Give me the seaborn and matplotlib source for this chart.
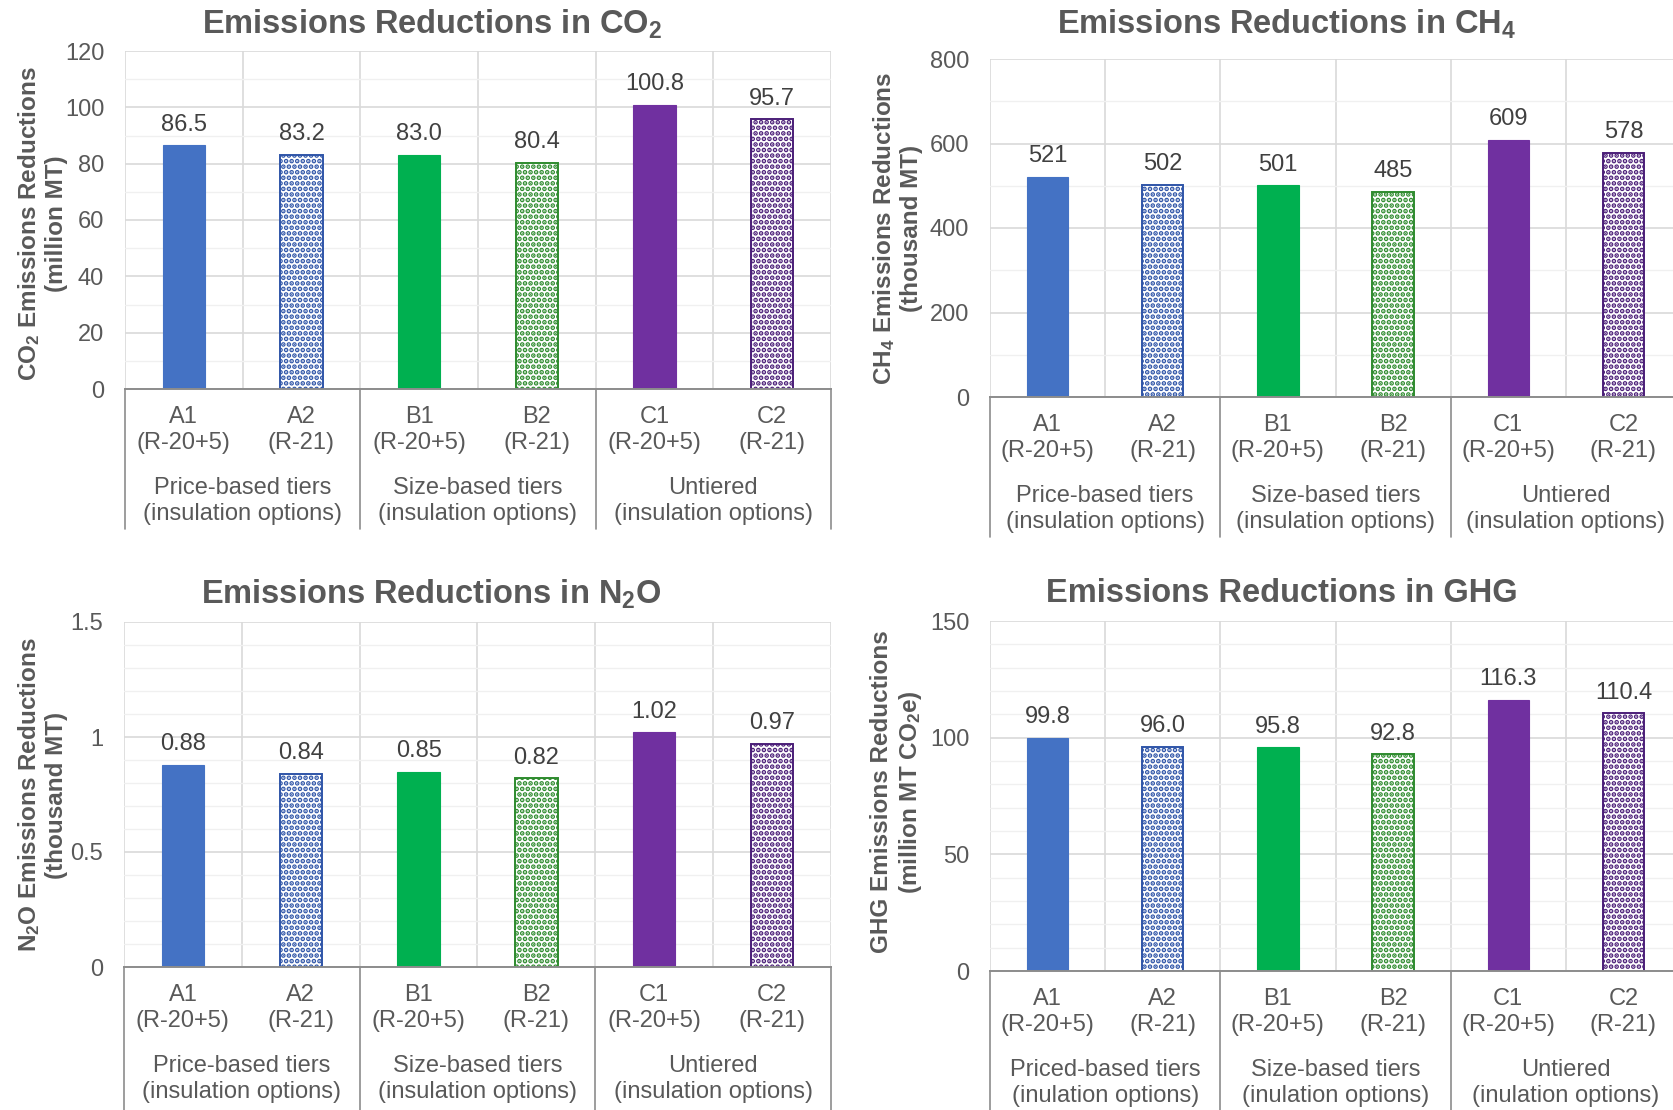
import numpy as np
import pandas as pd
import seaborn as sns
import matplotlib
matplotlib.use("Agg")
import matplotlib.pyplot as plt
from matplotlib.ticker import MultipleLocator
from matplotlib.transforms import blended_transform_factory

# ---------------- data ----------------
scenarios = ["A1", "A2", "B1", "B2", "C1", "C2"]
insulation = ["(R-20+5)", "(R-21)", "(R-20+5)", "(R-21)", "(R-20+5)", "(R-21)"]
groups = ["Price-based tiers\n(insulation options)",
          "Size-based tiers\n(insulation options)",
          "Untiered\n(insulation options)"]
groups_ghg = ["Priced-based tiers\n(inulation options)",
              "Size-based tiers\n(inulation options)",
              "Untiered\n(inulation options)"]
co2 = [86.5, 83.2, 83.0, 80.4, 100.8, 95.7]
ch4 = [521, 502, 501, 485, 609, 578]
n2o = [0.88, 0.84, 0.85, 0.82, 1.02, 0.97]
ghg = [99.8, 96.0, 95.8, 92.8, 116.3, 110.4]
co2_ticks = [0, 20, 40, 60, 80, 100, 120]
ch4_ticks = [0, 200, 400, 600, 800]
n2o_ticks = [0, 0.5, 1, 1.5]
n2o_ticklabels = ["0", "0.5", "1", "1.5"]
ghg_ticks = [0, 50, 100, 150]

# ---------------- style ----------------
bar_colors = ["#4472C4", "#4472C4", "#00B050", "#00B050", "#7030A0", "#7030A0"]
dot_colors = ["#4472C4", "#2F55A8", "#00B050", "#2E8B2E", "#7030A0", "#4B1E78"]
patterned = [False, True, False, True, False, True]

sns.set_style("white")
plt.rcParams["font.family"] = ["Liberation Sans", "DejaVu Sans"]
plt.rcParams["mathtext.default"] = "regular"
plt.rcParams["hatch.linewidth"] = 2.4

TXT = "#595959"
LBL = "#404040"
W, H = 1674, 1110
fig = plt.figure(figsize=(W / 100, H / 100), dpi=100)
fig.patch.set_facecolor("white")


def px_rect(left, right, top, bottom):
    return [left / W, 1 - bottom / H, (right - left) / W, (bottom - top) / H]


def panel(rect_px, values, fmt, ticks, ticklabels, minor, title, title_xy,
          ylabel, ylabel_xy, group_labels, sep_px):
    left, right, top, bottom = rect_px
    ax = fig.add_axes(px_rect(left, right, top, bottom))
    ax_h = bottom - top
    df = pd.DataFrame({"scenario": scenarios, "value": values})
    sns.barplot(data=df, x="scenario", y="value", hue="scenario",
                palette=dict(zip(scenarios, bar_colors)), legend=False,
                width=0.36, saturation=1, ax=ax, zorder=3)
    for i, cont in enumerate(ax.containers):
        for bar in cont:
            c = bar_colors[i]
            if patterned[i]:
                bar.set_facecolor("white")
                bar.set_edgecolor(dot_colors[i])
                bar.set_hatch("...")
                bar.set_linewidth(1.4)
            else:
                bar.set_edgecolor(c)
                bar.set_linewidth(0.8)
            bar.set_zorder(3)
        ax.bar_label(cont, labels=[fmt.format(values[i])], padding=7,
                     fontsize=17, color=LBL)
    ax.set_xlim(-0.5, 5.5)
    ax.set_ylim(ticks[0], ticks[-1])
    ax.set_yticks(ticks)
    ax.set_yticklabels(ticklabels, fontsize=17, color=TXT)
    ax.yaxis.set_minor_locator(MultipleLocator(minor))
    ax.set_xticks(range(len(scenarios)))
    ax.set_xticklabels([f"{s}\n{r}" for s, r in zip(scenarios, insulation)],
                       fontsize=17, color=TXT, linespacing=1.25)
    ax.set_xticks(np.arange(-0.5, 6, 1), minor=True)
    ax.tick_params(axis="x", which="both", length=0, pad=12)
    ax.tick_params(axis="y", which="both", length=0, pad=15)
    ax.set_xlabel("")
    ax.set_ylabel("")
    ax.grid(which="major", axis="y", color="#D9D9D9", linewidth=1.2, zorder=0)
    ax.grid(which="minor", axis="y", color="#F0F0F0", linewidth=1.0, zorder=0)
    ax.grid(which="minor", axis="x", color="#D9D9D9", linewidth=1.2, zorder=0)
    ax.grid(which="major", axis="x", visible=False)
    ax.set_axisbelow(True)
    for s in ["top", "right", "left"]:
        ax.spines[s].set_visible(False)
    ax.spines["bottom"].set_color("#8C8C8C")
    ax.spines["bottom"].set_linewidth(1.4)
    ax.spines["bottom"].set_zorder(4)

    tr = blended_transform_factory(ax.transData, ax.transAxes)
    for x in [-0.5, 1.5, 3.5, 5.5]:
        ax.plot([x, x], [0, -sep_px / ax_h], transform=tr, clip_on=False,
                color="#8C8C8C", linewidth=1.2)
    for gx, g in zip([0.5, 2.5, 4.5], group_labels):
        ax.text(gx, -112 / ax_h, g, transform=tr, ha="center", va="center",
                fontsize=17, color=TXT, linespacing=1.25)

    fig.text(title_xy[0] / W, 1 - title_xy[1] / H, title, ha="center",
             va="center", fontsize=23.5, fontweight="bold", color=TXT)
    fig.text(ylabel_xy[0] / W, 1 - ylabel_xy[1] / H, ylabel, ha="center",
             va="center", rotation=90, fontsize=17.5, fontweight="bold",
             color=TXT, multialignment="center", linespacing=1.2)
    return ax


panel((125, 831, 51, 389), co2, "{:.1f}", co2_ticks, [str(t) for t in co2_ticks], 10,
      "Emissions Reductions in CO$_2$", (432, 24),
      "CO$_2$ Emissions Reductions\n(million MT)", (42, 224), groups, 140)

panel((990, 1681, 59, 397), ch4, "{:.0f}", ch4_ticks, [str(t) for t in ch4_ticks], 100,
      "Emissions Reductions in CH$_4$", (1287, 24),
      "CH$_4$ Emissions Reductions\n(thousand MT)", (897, 228), groups, 140)

panel((124, 831, 622, 967), n2o, "{:.2f}", n2o_ticks, n2o_ticklabels, 0.1,
      "Emissions Reductions in N$_2$O", (431, 594),
      "N$_2$O Emissions Reductions\n(thousand MT)", (42, 795), groups, 143)

panel((990, 1681, 621, 971), ghg, "{:.1f}", ghg_ticks, [str(t) for t in ghg_ticks], 10,
      "Emissions Reductions in GHG", (1282, 594),
      "GHG Emissions Reductions\n(million MT CO$_2$e)", (897, 792), groups_ghg, 140)

fig.savefig("out.png", dpi=100, facecolor="white")
